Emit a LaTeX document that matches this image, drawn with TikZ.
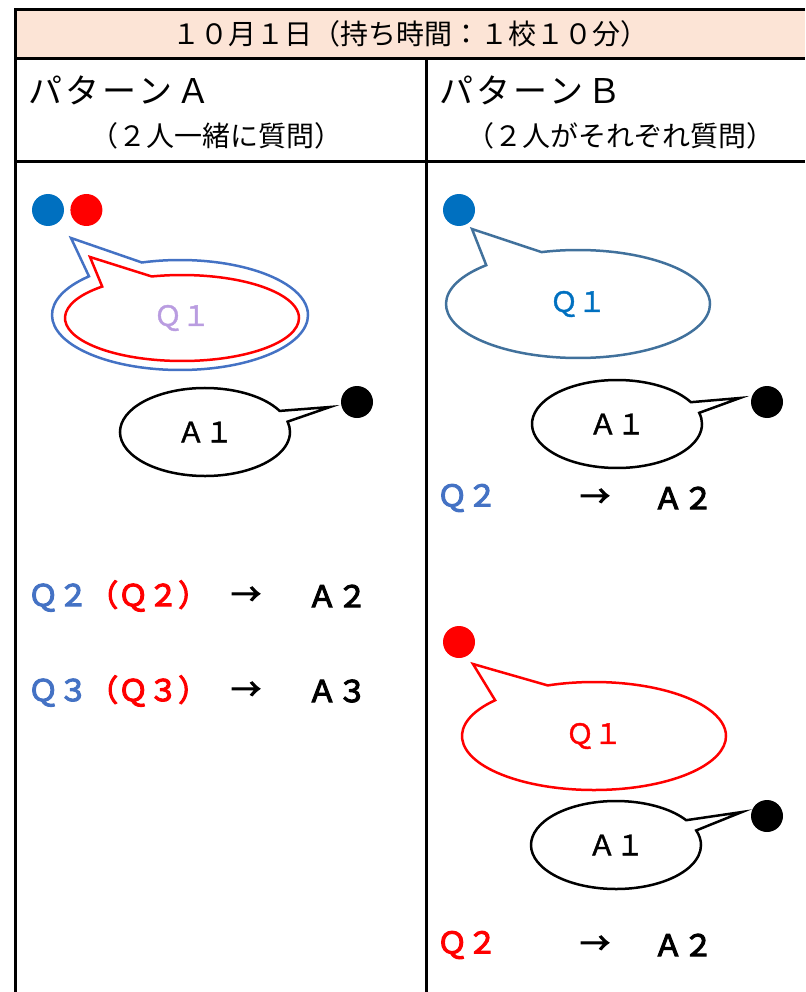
\documentclass[tikz,border=0pt]{standalone}
\usepackage{fontspec}
\setmainfont{Noto Sans CJK JP}
\usetikzlibrary{shapes.callouts,positioning}

\definecolor{hdrfill}{HTML}{FCE4D6}
\definecolor{spkblue}{HTML}{0070C0}
\definecolor{qblue}{HTML}{4472C4}
\definecolor{qsteel}{HTML}{41719C}
\definecolor{qlav}{HTML}{B99CE0}

\tikzset{
  tbl/.style={line width=3pt},
  spk/.style={circle,fill=#1,minimum size=32pt,inner sep=0pt},
  qbub/.style={ellipse callout,draw=#1,line width=2.5pt,inner sep=0pt,callout pointer arc=28,
    font=\fontsize{28}{30}\selectfont\addfontfeature{FakeBold=1.5}},
  abub/.style={ellipse callout,draw=black,line width=2.5pt,inner sep=0pt,
    minimum width=170pt,minimum height=88pt,callout pointer arc=15,
    font=\fontsize{28}{30}\selectfont\addfontfeature{FakeBold=1.5}},
  txt/.style={inner sep=0pt,font=\fontsize{30}{32}\selectfont\addfontfeature{FakeBold=3.5}},
  hdtxt/.style={inner sep=0pt,font=\fontsize{28}{30}\selectfont},
  pattxt/.style={inner sep=0pt,font=\fontsize{34}{36}\selectfont\addfontfeature{LetterSpace=10}}
}

\begin{document}
\begin{tikzpicture}[x=1pt,y=-1pt]
  \useasboundingbox (0,0) rectangle (805,992);
  % table
  \fill[hdrfill] (15,10) rectangle (805,59);
  \draw[tbl] (805,10) -- (15,10) -- (15,992);
  \draw[tbl] (15,59) -- (805,59);
  \draw[tbl] (15,162) -- (805,162);
  \draw[tbl] (426,59) -- (426,992);

  \node[hdtxt] (title) at (410,34) {１０月１日（持ち時間：１校１０分）};
  \node[pattxt,anchor=west] (patA) at (28,90) {パターンＡ};
  \node[hdtxt] (subA) at (216,136) {（２人一緒に質問）};
  \node[pattxt,anchor=west] (patB) at (439,90) {パターンＢ};
  \node[hdtxt] (subB) at (620,136) {（２人がそれぞれ質問）};

  % pattern A
  \node[spk=spkblue] (ba) at (48,210) {};
  \node[spk=red,right=6pt of ba] (ra) {};
  \coordinate (tipo) at (71,238);
  \coordinate (tipi) at (90,257);
  \node[qbub=qblue,minimum width=256pt,minimum height=110pt,
    callout absolute pointer={(tipo)}] (qo) at (180,315) {};
  \node[qbub=red,minimum width=234pt,minimum height=86pt,text=qlav,
    callout absolute pointer={(tipi)}] (qi) at (182,318) {Ｑ１};
  \node[spk=black] (ka) at (357,402) {};
  \coordinate (tipka) at (330,407);
  \node[abub,callout absolute pointer={(tipka)}] (aa) at (205,432) {Ａ１};

  \node[txt,anchor=west] (q2a) at (28,596) {\color{qblue}Ｑ２\color{red}（Ｑ２）};
  \node[txt] (ar2a) at (246,596) {→};
  \node[txt,anchor=west] (a2a) at (307,596) {Ａ２};
  \node[txt,anchor=west] (q3a) at (28,691) {\color{qblue}Ｑ３\color{red}（Ｑ３）};
  \node[txt] (ar3a) at (246,691) {→};
  \node[txt,anchor=west] (a3a) at (307,691) {Ａ３};

  % pattern B, first student
  \node[spk=spkblue] (bb) at (459,210) {};
  \coordinate (tipb) at (472,229);
  \node[qbub=qsteel,minimum width=264pt,minimum height=108pt,text=spkblue,
    callout absolute pointer={(tipb)}] (qb) at (578,304) {Ｑ１};
  \node[spk=black] (kb) at (767,402) {};
  \coordinate (tipkb) at (740,398);
  \node[abub,callout absolute pointer={(tipkb)}] (ab) at (617,424) {Ａ１};

  \node[txt,anchor=west,text=qblue] (q2b) at (437,498) {Ｑ２};
  \node[txt] (ar2b) at (595,498) {→};
  \node[txt,anchor=west] (a2b) at (653,498) {Ａ２};

  % pattern B, second student
  \node[spk=red] (rb) at (459,642) {};
  \coordinate (tipr) at (473,664);
  \node[qbub=red,minimum width=264pt,minimum height=108pt,text=red,
    callout absolute pointer={(tipr)}] (qr) at (594,736) {Ｑ１};
  \node[spk=black] (kc) at (767,816) {};
  \coordinate (tipkc) at (742,812);
  \node[abub,callout absolute pointer={(tipkc)}] (ac) at (616,845) {Ａ１};

  \node[txt,anchor=west,text=red] (q2c) at (437,945) {Ｑ２};
  \node[txt] (ar2c) at (595,945) {→};
  \node[txt,anchor=west] (a2c) at (653,945) {Ａ２};
\end{tikzpicture}
\end{document}
